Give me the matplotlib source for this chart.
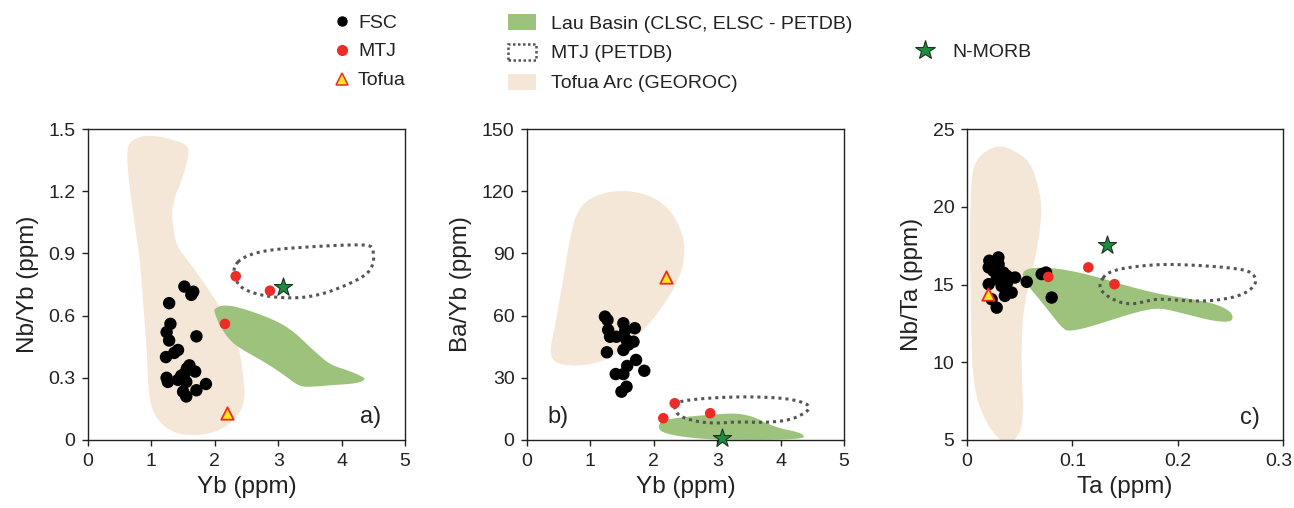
import numpy as np
import matplotlib
matplotlib.use("Agg")
import matplotlib.pyplot as plt
import matplotlib.transforms as mtransforms
from matplotlib.patches import Polygon, Patch
from matplotlib.lines import Line2D

plt.rcParams['font.family'] = ['Liberation Sans', 'DejaVu Sans']

# ---------------- data ----------------
# Panel a: Nb/Yb vs Yb
fsc_a_x = [1.52, 1.66, 1.63, 1.28, 1.30, 1.24, 1.28, 1.71, 1.42, 1.36, 1.23, 1.56, 1.69, 1.52,
           1.24, 1.26, 1.42, 1.55, 1.86, 1.71, 1.50, 1.55, 1.47, 1.60]
fsc_a_y = [0.74, 0.715, 0.70, 0.66, 0.56, 0.52, 0.48, 0.50, 0.434, 0.42, 0.40, 0.345, 0.33, 0.32,
           0.30, 0.28, 0.29, 0.28, 0.27, 0.24, 0.233, 0.21, 0.31, 0.36]
mtj_a_x = [2.33, 2.87, 2.16]
mtj_a_y = [0.79, 0.72, 0.56]
tofua_a_x = [2.20]
tofua_a_y = [0.13]
nmorb_a_x = [3.08]
nmorb_a_y = [0.74]
arc_a_x = [0.66, 0.98, 1.56, 1.60, 1.50, 1.37, 1.32, 1.35, 1.40, 1.61, 1.87, 2.08, 2.29, 2.40, 2.45,
           2.48, 2.40, 2.19, 1.87, 1.45, 1.19, 1.00, 0.95, 0.93, 0.87, 0.82, 0.74, 0.64, 0.61]
arc_a_y = [1.447, 1.476, 1.431, 1.383, 1.27, 1.174, 1.094, 1.013, 0.933, 0.852, 0.74, 0.643, 0.547,
           0.418, 0.305, 0.209, 0.129, 0.064, 0.024, 0.024, 0.064, 0.145, 0.257, 0.418, 0.659,
           0.868, 1.029, 1.254, 1.383]
lau_a_x = [2.00, 2.13, 2.35, 2.82, 3.19, 3.55, 3.82, 4.08, 4.34, 4.37, 4.24, 3.87, 3.55, 3.34, 3.13,
           2.82, 2.35, 2.19, 2.06, 1.99]
lau_a_y = [0.635, 0.651, 0.643, 0.595, 0.539, 0.434, 0.362, 0.338, 0.305, 0.289, 0.273, 0.265,
           0.257, 0.257, 0.305, 0.37, 0.45, 0.498, 0.563, 0.619]
petdb_a_x = [2.29, 2.45, 2.82, 3.55, 4.08, 4.45, 4.50, 4.51, 4.40, 4.03, 3.66, 3.29, 2.82, 2.45, 2.32]
petdb_a_y = [0.836, 0.884, 0.917, 0.933, 0.941, 0.941, 0.917, 0.852, 0.796, 0.74, 0.70, 0.683,
             0.691, 0.724, 0.772]

# Panel b: Ba/Yb vs Yb
fsc_b_x = [1.23, 1.27, 1.52, 1.28, 1.70, 1.55, 1.31, 1.41, 1.57, 1.68, 1.52, 1.26, 1.72, 1.58,
           1.85, 1.40, 1.52, 1.57, 1.49, 1.60]
fsc_b_y = [59.5, 57.9, 56.3, 53.1, 53.9, 53.0, 49.8, 49.8, 48.2, 47.4, 43.4, 42.3, 38.6, 35.7,
           33.4, 31.8, 31.8, 25.7, 23.3, 46.0]
mtj_b_x = [2.33, 2.15, 2.89]
mtj_b_y = [17.7, 10.5, 12.9]
tofua_b_x = [2.20]
tofua_b_y = [78.8]
nmorb_b_x = [3.07]
nmorb_b_y = [0.8]
arc_b_x = [0.36, 0.44, 0.57, 0.68, 0.78, 0.94, 1.26, 1.62, 1.99, 2.26, 2.41, 2.49, 2.47, 2.31,
           2.10, 1.89, 1.57, 1.31, 0.99, 0.63, 0.41]
arc_b_y = [43.4, 54.7, 77.2, 98.1, 109.4, 115.8, 119.8, 120.3, 117.4, 111.0, 102.9, 94.9, 83.6,
           72.4, 62.7, 54.7, 45.0, 39.4, 36.2, 35.8, 37.8]
lau_b_x = [2.07, 2.15, 2.52, 3.04, 3.31, 3.57, 3.78, 3.99, 4.25, 4.37, 4.36, 3.57, 2.83, 2.36, 2.10]
lau_b_y = [7.2, 9.6, 11.3, 12.5, 12.9, 11.3, 8.0, 5.6, 4.0, 2.4, 0.5, 0.0, 0.3, 1.9, 4.0]
petdb_b_x = [2.33, 2.52, 3.04, 3.57, 4.10, 4.41, 4.46, 4.38, 4.15, 3.78, 3.31, 2.99, 2.68, 2.41, 2.33]
petdb_b_y = [17.7, 19.3, 20.6, 20.9, 20.1, 17.7, 15.3, 12.9, 9.6, 8.4, 8.8, 8.0, 8.8, 11.3, 14.5]

# Panel c: Nb/Ta vs Ta
fsc_c_x = [0.0212, 0.0298, 0.0206, 0.025, 0.0345, 0.0378, 0.0456, 0.0567, 0.0282, 0.0206, 0.0329,
           0.0424, 0.036, 0.0234, 0.0282, 0.0709, 0.0750, 0.0804, 0.0300, 0.0380]
fsc_c_y = [16.53, 16.74, 16.1, 15.88, 15.77, 15.56, 15.45, 15.17, 15.35, 15.02, 14.9, 14.48, 14.27,
           14.05, 13.51, 15.67, 15.77, 14.16, 16.3, 15.1]
mtj_c_x = [0.0772, 0.1152, 0.140]
mtj_c_y = [15.49, 16.1, 15.02]
tofua_c_x = [0.0196]
tofua_c_y = [14.37]
nmorb_c_x = [0.1327]
nmorb_c_y = [17.54]
arc_c_x = [0.006, 0.0155, 0.0313, 0.0472, 0.0598, 0.0677, 0.0709, 0.0693, 0.0646, 0.0582, 0.0535,
           0.0519, 0.0519, 0.0535, 0.0519, 0.044, 0.0345, 0.025, 0.0155, 0.0076, 0.0045, 0.0035,
           0.0029, 0.0035]
arc_c_y = [22.67, 23.53, 24.0, 23.53, 22.89, 21.37, 20.08, 18.36, 16.64, 14.91, 13.19, 11.46, 9.31,
           7.15, 5.65, 4.89, 4.83, 5.43, 6.51, 8.02, 10.38, 13.62, 17.93, 21.16]
lau_c_x = [0.0535, 0.063, 0.0883, 0.12, 0.1517, 0.1833, 0.2149, 0.2371, 0.2498, 0.2529, 0.2498,
           0.2339, 0.2086, 0.1833, 0.1643, 0.1389, 0.1137, 0.0978, 0.0915, 0.0788, 0.0662, 0.0551,
           0.0529]
lau_c_y = [15.88, 16.1, 16.03, 15.56, 14.91, 14.37, 14.05, 13.73, 13.29, 12.87, 12.58, 12.65, 13.08,
           13.51, 13.29, 12.76, 12.22, 12.0, 12.11, 13.19, 14.26, 15.13, 15.56]
petdb_c_x = [0.1263, 0.1327, 0.1517, 0.1833, 0.2149, 0.2466, 0.2688, 0.2751, 0.2719, 0.2593, 0.2339,
             0.2086, 0.1833, 0.1707, 0.1579, 0.1453, 0.1327, 0.1263]
petdb_c_y = [15.13, 15.77, 16.1, 16.31, 16.25, 16.1, 15.88, 15.34, 14.8, 14.26, 13.94, 13.94, 14.09,
             13.94, 13.73, 13.83, 14.26, 14.69]

# ---------------- styles ----------------
C_ARC = '#F5E7D7'
C_LAU = '#9CC27B'
C_RED = '#EE2B27'
C_STAR = '#1E8C3E'
C_TRI = '#FFE61A'
C_DOT = '#555555'
C_TXT = '#222222'


def smooth_closed(x, y, n=4):
    """Chaikin corner-cutting for a closed outline (rendering only)."""
    p = np.column_stack([x, y]).astype(float)
    for _ in range(n):
        q = np.roll(p, -1, axis=0)
        a = 0.75 * p + 0.25 * q
        b = 0.25 * p + 0.75 * q
        inter = np.empty((2 * len(p), 2))
        inter[0::2] = a
        inter[1::2] = b
        p = inter
    return p


fig = plt.figure(figsize=(12.94, 5.08), dpi=100)
W, H = 1294, 508
axw, axh = 317 / W, 311 / H
bot = 68 / H
ax_a = fig.add_axes([88 / W, bot, axw, axh])
ax_b = fig.add_axes([527 / W, bot, axw, axh])
ax_c = fig.add_axes([967 / W, bot, 316 / W, axh])

panels = [
    (ax_a, fsc_a_x, fsc_a_y, mtj_a_x, mtj_a_y, tofua_a_x, tofua_a_y, nmorb_a_x, nmorb_a_y,
     arc_a_x, arc_a_y, lau_a_x, lau_a_y, petdb_a_x, petdb_a_y),
    (ax_b, fsc_b_x, fsc_b_y, mtj_b_x, mtj_b_y, tofua_b_x, tofua_b_y, nmorb_b_x, nmorb_b_y,
     arc_b_x, arc_b_y, lau_b_x, lau_b_y, petdb_b_x, petdb_b_y),
    (ax_c, fsc_c_x, fsc_c_y, mtj_c_x, mtj_c_y, tofua_c_x, tofua_c_y, nmorb_c_x, nmorb_c_y,
     arc_c_x, arc_c_y, lau_c_x, lau_c_y, petdb_c_x, petdb_c_y),
]

for (ax, fx, fy, mx, my, tx, ty, nx, ny, ax_x, ax_y, lx, ly, px, py) in panels:
    ax.add_patch(Polygon(smooth_closed(ax_x, ax_y), closed=True, facecolor=C_ARC, edgecolor='none', zorder=1))
    ax.add_patch(Polygon(smooth_closed(lx, ly), closed=True, facecolor=C_LAU, edgecolor='none', zorder=2))
    ax.add_patch(Polygon(smooth_closed(px, py), closed=True, facecolor='none', edgecolor=C_DOT,
                         linestyle=(0, (1, 1.3)), linewidth=2.2, zorder=3))
    ax.scatter(fx, fy, s=80, c='black', edgecolors='none', zorder=4, clip_on=False)
    ax.scatter(mx, my, s=58, c=C_RED, edgecolors='none', zorder=5, clip_on=False)
    ax.scatter(tx, ty, s=80, marker='^', c=C_TRI, edgecolors=C_RED, linewidths=1.3, zorder=6, clip_on=False)
    ax.scatter(nx, ny, s=190, marker='*', c=C_STAR, edgecolors='#1b3320', linewidths=0.8, zorder=7, clip_on=False)
    for sp in ax.spines.values():
        sp.set_linewidth(1.0)
        sp.set_color(C_TXT)
    ax.tick_params(direction='out', length=4, width=1, labelsize=14, pad=5, colors=C_TXT)

ax_a.set_xlim(0, 5); ax_a.set_ylim(0, 1.5)
ax_a.set_xticks([0, 1, 2, 3, 4, 5])
ax_a.set_yticks([0, 0.3, 0.6, 0.9, 1.2, 1.5])
ax_a.set_yticklabels(['0', '0.3', '0.6', '0.9', '1.2', '1.5'])
ax_b.set_xlim(0, 5); ax_b.set_ylim(0, 150)
ax_b.set_xticks([0, 1, 2, 3, 4, 5])
ax_b.set_yticks([0, 30, 60, 90, 120, 150])
ax_c.set_xlim(0, 0.3); ax_c.set_ylim(5, 25)
ax_c.set_xticks([0, 0.1, 0.2, 0.3])
ax_c.set_xticklabels(['0', '0.1', '0.2', '0.3'])
ax_c.set_yticks([5, 10, 15, 20, 25])
# keep the last x tick label of panel c inside the canvas
last = ax_c.get_xticklabels()[-1]
last.set_transform(last.get_transform() + mtransforms.ScaledTranslation(-4 / 100, 0, fig.dpi_scale_trans))

lab_kw = dict(fontsize=17.5, color=C_TXT)
ax_a.set_xlabel('Yb (ppm)', labelpad=5, **lab_kw)
ax_a.set_ylabel('Nb/Yb (ppm)', labelpad=7, **lab_kw)
ax_b.set_xlabel('Yb (ppm)', labelpad=5, **lab_kw)
ax_b.set_ylabel('Ba/Yb (ppm)', labelpad=7, **lab_kw)
ax_c.set_xlabel('Ta (ppm)', labelpad=5, **lab_kw)
ax_c.set_ylabel('Nb/Ta (ppm)', labelpad=7, **lab_kw)

ax_a.text(0.925, 0.055, 'a)', transform=ax_a.transAxes, ha='right', va='baseline', fontsize=17, color=C_TXT)
ax_b.text(0.066, 0.055, 'b)', transform=ax_b.transAxes, ha='left', va='baseline', fontsize=17, color=C_TXT)
ax_c.text(0.927, 0.05, 'c)', transform=ax_c.transAxes, ha='right', va='baseline', fontsize=17, color=C_TXT)

# ---------------- legends ----------------
leg_kw = dict(frameon=False, fontsize=14, labelspacing=0.58, borderpad=0, borderaxespad=0,
              labelcolor=C_TXT)
h1 = [Line2D([], [], ls='none', marker='o', color='black', markersize=6.5),
      Line2D([], [], ls='none', marker='o', color=C_RED, markersize=7),
      Line2D([], [], ls='none', marker='^', markerfacecolor=C_TRI, markeredgecolor=C_RED,
             markeredgewidth=1.1, markersize=8)]
fig.legend(h1, ['FSC', 'MTJ', 'Tofua'], loc='upper left', bbox_to_anchor=(334 / W, 1 - 14 / H),
           handlelength=0.8, handletextpad=0.44, **leg_kw)
h2 = [Patch(facecolor=C_LAU, edgecolor='none'),
      Patch(facecolor='none', edgecolor=C_DOT, linestyle=(0, (1, 1)), linewidth=1.8),
      Patch(facecolor=C_ARC, edgecolor='none')]
fig.legend(h2, ['Lau Basin (CLSC, ELSC - PETDB)', 'MTJ (PETDB)', 'Tofua Arc (GEOROC)'],
           loc='upper left', bbox_to_anchor=(508 / W, 1 - 14 / H),
           handlelength=1.44, handleheight=0.87, handletextpad=0.78, **leg_kw)
h3 = [Line2D([], [], ls='none', marker='*', markerfacecolor=C_STAR, markeredgecolor='#1b3320',
             markeredgewidth=0.8, markersize=15)]
fig.legend(h3, ['N-MORB'], loc='upper left', bbox_to_anchor=(915 / W, 1 - 43 / H),
           handlelength=1.0, handletextpad=0.92, **leg_kw)

fig.savefig('out.png', dpi=100)
